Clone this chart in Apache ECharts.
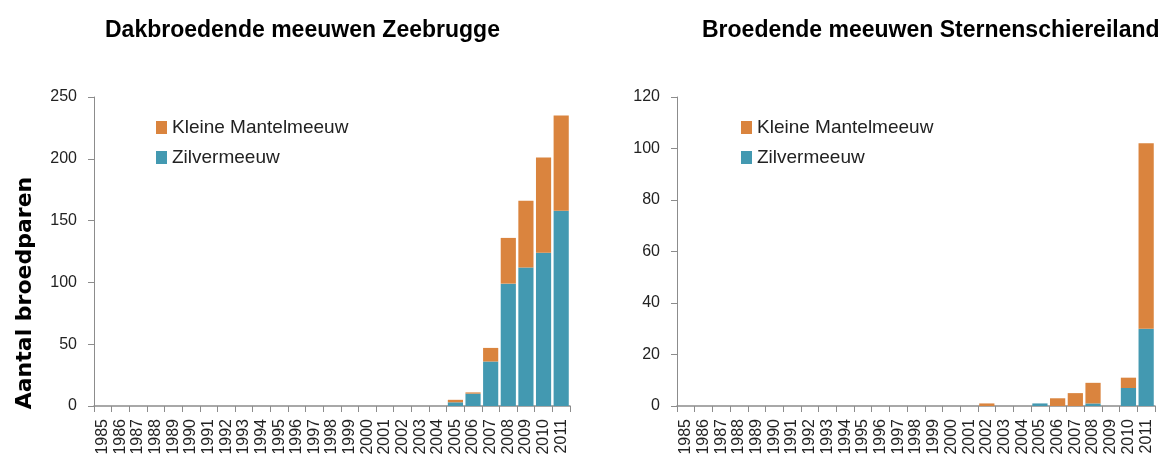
<!DOCTYPE html>
<html>
<head>
<meta charset="utf-8">
<script src="https://cdn.jsdelivr.net/npm/echarts@6/dist/echarts.min.js"></script>
<style>
  html, body { margin: 0; padding: 0; background: #fff; }
  #chart { width: 1169px; height: 463px; }
</style>
</head>
<body>
<div id="chart"></div>
<script>
const years = [];
for (let y = 1985; y <= 2011; y++) years.push(String(y));

// Dakbroedende meeuwen Zeebrugge (1985 - 2011)
const zeeZilver = [0,0,0,0,0,0,0,0,0,0,0,0,0,0,0,0,0,0,0,0,3,10,36,99,112,124,158];
const zeeKleine = [0,0,0,0,0,0,0,0,0,0,0,0,0,0,0,0,0,0,0,0,2,1,11,37,54,77,77];

// Broedende meeuwen Sternenschiereiland (1985 - 2011)
const sterZilver = [0,0,0,0,0,0,0,0,0,0,0,0,0,0,0,0,0,0,0,0,1,0,0,1,0,7,30];
const sterKleine = [0,0,0,0,0,0,0,0,0,0,0,0,0,0,0,0,0,1,0,0,0,3,5,8,0,4,72];

const zeeTicks = [0, 50, 100, 150, 200, 250];
const sterTicks = [0, 20, 40, 60, 80, 100, 120];

const orange = '#da843e';
const blue = '#4399b1';
const axisGray = '#8c8c8c';
const sans = "'Liberation Sans', Arial, sans-serif";

function xAxis(gridIndex) {
  return {
    type: 'category',
    gridIndex: gridIndex,
    data: years,
    axisLine: { lineStyle: { color: axisGray, width: 1.5 } },
    axisTick: { show: true, length: 6, lineStyle: { color: axisGray } },
    axisLabel: {
      interval: 0, rotate: 90, margin: 13,
      color: '#222', fontFamily: sans, fontSize: 16
    }
  };
}

function yAxis(gridIndex, ticks) {
  return {
    type: 'value',
    gridIndex: gridIndex,
    min: ticks[0],
    max: ticks[ticks.length - 1],
    interval: ticks[1] - ticks[0],
    splitLine: { show: false },
    axisLine: { show: true, lineStyle: { color: axisGray, width: 1 } },
    axisTick: { show: true, length: 6, lineStyle: { color: axisGray } },
    axisLabel: { color: '#222', fontFamily: sans, fontSize: 16, margin: 17 }
  };
}

function bars(name, data, color, idx) {
  return {
    name: name,
    type: 'bar',
    stack: 'total' + idx,
    xAxisIndex: idx,
    yAxisIndex: idx,
    barCategoryGap: '14%',
    itemStyle: { color: color },
    data: data
  };
}

function legend(left) {
  return {
    orient: 'vertical', left: left, top: 118, padding: 0,
    itemWidth: 11, itemHeight: 13, itemGap: 11,
    icon: 'rect',
    data: ['Kleine Mantelmeeuw', 'Zilvermeeuw'],
    textStyle: { fontFamily: sans, fontSize: 19, color: '#222' }
  };
}

const titleStyle = { fontFamily: sans, fontWeight: 'bold', fontSize: 23, color: '#000' };

const chart = echarts.init(document.getElementById('chart'), null, { renderer: 'canvas' });
chart.setOption({
  animation: false,
  title: [
    { text: 'Dakbroedende meeuwen Zeebrugge', left: 100, top: 14, textStyle: titleStyle },
    { text: 'Broedende meeuwen Sternenschiereiland', left: 697, top: 14, textStyle: titleStyle }
  ],
  legend: [legend(156), legend(741)],
  graphic: [{
    type: 'text',
    x: 25, y: 293,
    rotation: Math.PI / 2,
    style: {
      text: 'Aantal broedparen',
      fontFamily: "'DejaVu Sans', sans-serif",
      fontWeight: 'bold', fontSize: 22, fill: '#000',
      textAlign: 'center', textVerticalAlign: 'middle'
    }
  }],
  grid: [
    { left: 94, top: 97, width: 476, height: 309 },
    { left: 677, top: 97, width: 478, height: 309 }
  ],
  xAxis: [xAxis(0), xAxis(1)],
  yAxis: [yAxis(0, zeeTicks), yAxis(1, sterTicks)],
  series: [
    bars('Zilvermeeuw', zeeZilver, blue, 0),
    bars('Kleine Mantelmeeuw', zeeKleine, orange, 0),
    bars('Zilvermeeuw', sterZilver, blue, 1),
    bars('Kleine Mantelmeeuw', sterKleine, orange, 1)
  ]
});
</script>
</body>
</html>
